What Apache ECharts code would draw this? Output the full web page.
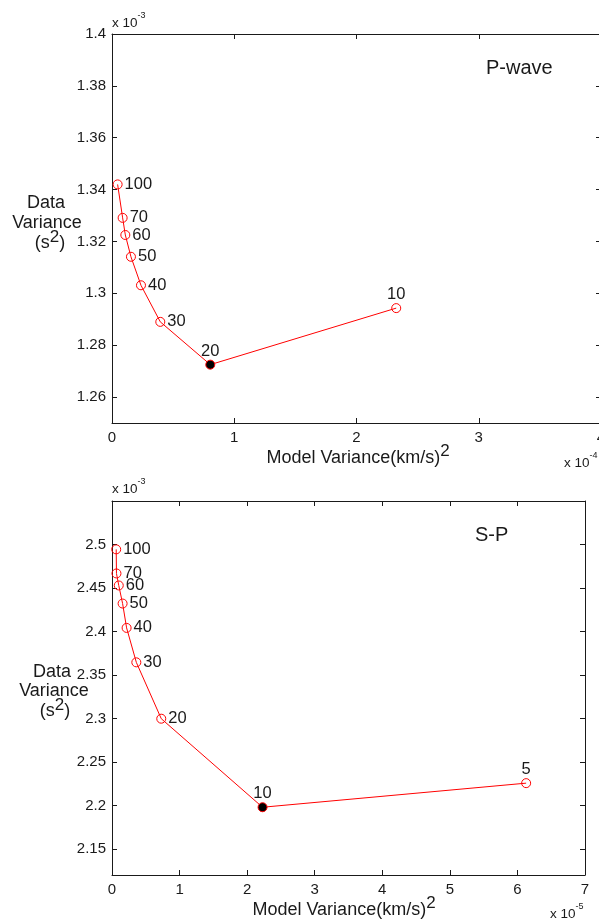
<!DOCTYPE html>
<html>
<head>
<meta charset="utf-8">
<script src="https://cdn.jsdelivr.net/npm/echarts@6/dist/echarts.min.js"></script>
<style>
  html, body { margin: 0; padding: 0; background: #fff; }
  #chart { width: 599px; height: 923px; }
</style>
</head>
<body>
<div id="chart"></div>
<script>
// P-wave panel: x in units of 1e-4, y in units of 1e-3
const pLabels = ['100', '70', '60', '50', '40', '30', '20', '10'];
const pModelVar = [0.046, 0.087, 0.109, 0.155, 0.237, 0.395, 0.804, 2.325];
const pDataVar = [1.342, 1.3291, 1.3225, 1.3141, 1.3031, 1.289, 1.2725, 1.2943];
const pBest = 6; // filled marker ("20")
const pYTicks = [1.26, 1.28, 1.3, 1.32, 1.34, 1.36, 1.38, 1.4];

// S-P panel: x in units of 1e-5, y in units of 1e-3
const sLabels = ['100', '70', '60', '50', '40', '30', '20', '10', '5'];
const sModelVar = [0.062, 0.066, 0.1, 0.157, 0.216, 0.36, 0.729, 2.228, 6.129];
const sDataVar = [2.4944, 2.4667, 2.4529, 2.4321, 2.4041, 2.3645, 2.2997, 2.1979, 2.2256];
const sBest = 7; // filled marker ("10")
const sYTicks = [2.15, 2.2, 2.25, 2.3, 2.35, 2.4, 2.45, 2.5];

const RED = '#ff0000';
const INK = '#1a1a1a';
const FONT = '"Liberation Sans", Arial, sans-serif';

const chart = echarts.init(document.getElementById('chart'));

const buildData = (xs, ys, names, best) =>
  xs.map((x, i) => {
    const item = {
      value: [x, ys[i]],
      label: { formatter: names[i], position: i >= best ? 'top' : 'right', distance: i >= best ? 0 : 2 }
    };
    if (i === best) {
      item.itemStyle = { color: '#000', borderColor: RED };
    }
    return item;
  });

const xAxisDef = (gridIndex, max, position, show) => ({
  type: 'value',
  gridIndex,
  position,
  min: 0,
  max,
  interval: 1,
  splitLine: { show: false },
  axisLine: { onZero: false, lineStyle: { color: INK, width: 1 } },
  axisTick: { inside: true, length: 5, lineStyle: { color: INK } },
  axisLabel: { show, color: INK, fontSize: 15, fontFamily: FONT, margin: 7 }
});

const yAxisDef = (gridIndex, min, max, ticks, position, show) => ({
  type: 'value',
  gridIndex,
  position,
  min,
  max,
  splitLine: { show: false },
  axisLine: { onZero: false, lineStyle: { color: INK, width: 1 } },
  axisTick: { inside: true, length: 5, customValues: ticks, lineStyle: { color: INK } },
  axisLabel: {
    show,
    customValues: ticks,
    color: INK,
    fontSize: 15,
    fontFamily: FONT,
    margin: 6,
    formatter: v => String(+v.toFixed(2))
  }
});

const seriesDef = (xi, yi, data) => ({
  type: 'line',
  xAxisIndex: xi,
  yAxisIndex: yi,
  data,
  symbol: 'circle',
  symbolSize: 9,
  lineStyle: { color: RED, width: 1 },
  itemStyle: { color: 'transparent', borderColor: RED, borderWidth: 1 },
  label: { show: true, color: INK, fontSize: 16.5, fontFamily: FONT },
  emphasis: { disabled: true },
  animation: false,
  z: 3
});

// measure text so superscripts can be placed after their base text
const measureCtx = document.createElement('canvas').getContext('2d');
const textWidth = (s, size) => {
  measureCtx.font = size + 'px ' + FONT;
  return measureCtx.measureText(s).width;
};

const txt = (x, y, text, size, align) => ({
  type: 'text', x, y, silent: true,
  style: { text, fill: INK, font: size + 'px ' + FONT, align: align || 'left', verticalAlign: 'middle' }
});

// parts: [{t, sup}], returns several text elements laid out left to right
const supText = (x, y, parts, size, supSize, raise, align) => {
  const widths = parts.map(p => textWidth(p.t, p.sup ? supSize : size));
  const total = widths.reduce((a, b) => a + b, 0);
  let cx = align === 'center' ? x - total / 2 : x;
  return parts.map((p, i) => {
    const el = txt(cx, p.sup ? y - raise : y, p.t, p.sup ? supSize : size, 'left');
    cx += widths[i];
    return el;
  });
};

const xName = [{ t: 'Model Variance(km/s)' }, { t: '2', sup: true }];
const sSq = [{ t: '(s' }, { t: '2', sup: true }, { t: ')' }];
const pow = e => [{ t: 'x 10' }, { t: e, sup: true }];

chart.setOption({
  animation: false,
  grid: [
    { left: 112, top: 34, width: 489, height: 389, outerBoundsMode: 'none' },
    { left: 112, top: 501, width: 473, height: 374, outerBoundsMode: 'none' }
  ],
  xAxis: [
    xAxisDef(0, 4, 'bottom', true),
    xAxisDef(0, 4, 'top', false),
    xAxisDef(1, 7, 'bottom', true),
    xAxisDef(1, 7, 'top', false)
  ],
  yAxis: [
    yAxisDef(0, 1.25, 1.4, pYTicks, 'left', true),
    yAxisDef(0, 1.25, 1.4, pYTicks, 'right', false),
    yAxisDef(1, 2.12, 2.55, sYTicks, 'left', true),
    yAxisDef(1, 2.12, 2.55, sYTicks, 'right', false)
  ],
  series: [
    seriesDef(0, 0, buildData(pModelVar, pDataVar, pLabels, pBest)),
    seriesDef(2, 2, buildData(sModelVar, sDataVar, sLabels, sBest))
  ],
  graphic: [
    // top panel
    ...supText(112, 23, pow('-3'), 13.5, 9, 7),
    txt(486, 68, 'P-wave', 20),
    txt(46, 203, 'Data', 18, 'center'),
    txt(47, 223, 'Variance', 18, 'center'),
    ...supText(50, 243, sSq, 18, 17, 6, 'center'),
    ...supText(358, 458, xName, 18, 17, 6.5, 'center'),
    ...supText(564, 463, pow('-4'), 13.5, 9, 7),
    // bottom panel
    ...supText(112, 489, pow('-3'), 13.5, 9, 7),
    txt(475, 535, 'S-P', 20),
    txt(52, 672, 'Data', 18, 'center'),
    txt(54, 691, 'Variance', 18, 'center'),
    ...supText(55, 711, sSq, 18, 17, 6, 'center'),
    ...supText(344, 910, xName, 18, 17, 6.5, 'center'),
    ...supText(550, 914, pow('-5'), 13.5, 9, 7)
  ]
});
</script>
</body>
</html>
